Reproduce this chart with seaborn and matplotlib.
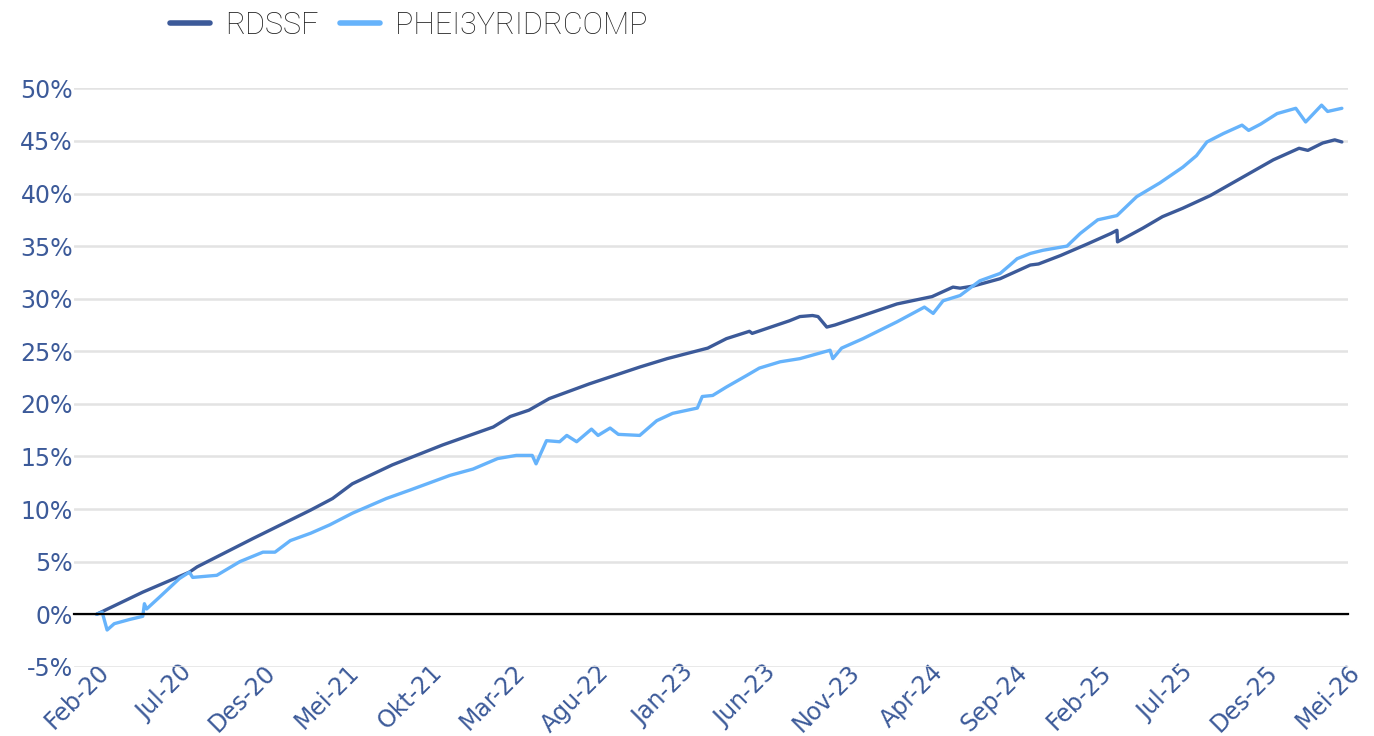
import matplotlib
matplotlib.use('Agg')

import matplotlib.pyplot as plt
import seaborn as sns
import pandas as pd

# RDSSF cumulative return (%)
rdssf_dates = [
    '2020-02-01', '2020-04-25', '2020-07-19', '2020-08-02', '2020-11-12', '2021-02-25',
    '2021-04-06', '2021-05-12', '2021-07-24', '2021-10-24', '2022-01-24', '2022-02-24',
    '2022-03-30', '2022-05-06', '2022-07-18', '2022-10-18', '2022-12-07', '2023-01-13',
    '2023-02-19', '2023-03-25', '2023-05-06', '2023-05-11', '2023-07-18', '2023-08-06',
    '2023-08-29', '2023-09-08', '2023-09-24', '2023-10-09', '2023-11-29', '2024-01-30',
    '2024-04-03', '2024-05-11', '2024-05-24', '2024-06-17', '2024-08-05', '2024-09-29',
    '2024-10-14', '2024-11-23', '2025-01-11', '2025-02-23', '2025-03-06', '2025-03-07',
    '2025-04-22', '2025-05-28', '2025-07-04', '2025-08-23', '2025-12-16', '2026-02-01',
    '2026-02-17', '2026-03-16', '2026-04-07', '2026-04-20',
]
rdssf_values = [
    0.0, 2.1, 4.0, 4.5, 7.2, 9.9,
    11.0, 12.4, 14.2, 16.1, 17.8, 18.8,
    19.4, 20.5, 21.9, 23.5, 24.3, 24.8,
    25.3, 26.2, 26.9, 26.7, 27.9, 28.3,
    28.4, 28.3, 27.3, 27.5, 28.4, 29.5,
    30.2, 31.1, 31.0, 31.2, 31.9, 33.2,
    33.3, 34.1, 35.2, 36.2, 36.5, 35.4,
    36.7, 37.8, 38.6, 39.8, 43.2, 44.3,
    44.1, 44.8, 45.1, 44.9,
]

# PHEI3YRIDRCOMP cumulative return (%)
phei_dates = [
    '2020-02-01', '2020-02-11', '2020-02-20', '2020-03-04', '2020-04-01', '2020-04-25',
    '2020-04-28', '2020-05-02', '2020-05-25', '2020-07-01', '2020-07-19', '2020-07-25',
    '2020-09-07', '2020-10-19', '2020-11-30', '2020-12-22', '2021-01-19', '2021-02-25',
    '2021-04-01', '2021-05-12', '2021-07-13', '2021-08-25', '2021-11-06', '2021-12-18',
    '2022-02-01', '2022-03-07', '2022-04-05', '2022-04-12', '2022-05-01', '2022-05-25',
    '2022-06-07', '2022-06-25', '2022-07-22', '2022-08-03', '2022-08-25', '2022-09-09',
    '2022-10-18', '2022-11-18', '2022-12-17', '2023-01-31', '2023-02-09', '2023-02-28',
    '2023-03-25', '2023-05-01', '2023-05-24', '2023-07-01', '2023-08-06', '2023-09-30',
    '2023-10-05', '2023-10-21', '2023-11-29', '2024-01-30', '2024-03-20', '2024-04-05',
    '2024-04-23', '2024-05-24', '2024-06-29', '2024-08-05', '2024-08-23', '2024-09-05',
    '2024-09-29', '2024-10-22', '2024-12-05', '2024-12-29', '2025-01-30', '2025-03-06',
    '2025-04-11', '2025-05-23', '2025-07-04', '2025-07-29', '2025-08-17', '2025-09-16',
    '2025-10-20', '2025-11-01', '2025-11-23', '2025-12-23', '2026-01-26', '2026-02-13',
    '2026-03-14', '2026-03-25', '2026-04-20',
]
phei_values = [
    0.0, 0.2, -1.5, -0.9, -0.5, -0.2,
    1.0, 0.5, 1.6, 3.4, 4.0, 3.5,
    3.7, 5.0, 5.9, 5.9, 7.0, 7.7,
    8.5, 9.6, 11.0, 11.8, 13.2, 13.8,
    14.8, 15.1, 15.1, 14.3, 16.5, 16.4,
    17.0, 16.4, 17.6, 17.0, 17.7, 17.1,
    17.0, 18.4, 19.1, 19.6, 20.7, 20.8,
    21.6, 22.7, 23.4, 24.0, 24.3, 25.1,
    24.3, 25.3, 26.2, 27.8, 29.2, 28.6,
    29.8, 30.3, 31.7, 32.4, 33.2, 33.8,
    34.3, 34.6, 35.0, 36.2, 37.5, 37.9,
    39.7, 41.0, 42.5, 43.6, 44.9, 45.7,
    46.5, 46.0, 46.6, 47.6, 48.1, 46.8,
    48.4, 47.8, 48.1,
]

series_names = ['RDSSF', 'PHEI3YRIDRCOMP']
series_colors = ['#3c5a99', '#66b3fb']

tick_dates = ['2020-02-01', '2020-07-01', '2020-12-01', '2021-05-01', '2021-10-01',
              '2022-03-01', '2022-08-01', '2023-01-01', '2023-06-01', '2023-11-01',
              '2024-04-01', '2024-09-01', '2025-02-01', '2025-07-01', '2025-12-01',
              '2026-05-01']
tick_labels = ['Feb-20', 'Jul-20', 'Des-20', 'Mei-21', 'Okt-21', 'Mar-22', 'Agu-22',
               'Jan-23', 'Jun-23', 'Nov-23', 'Apr-24', 'Sep-24', 'Feb-25', 'Jul-25',
               'Des-25', 'Mei-26']
y_ticks = [-5, 0, 5, 10, 15, 20, 25, 30, 35, 40, 45, 50]

df = pd.concat([
    pd.DataFrame({'date': pd.to_datetime(rdssf_dates), 'value': rdssf_values, 'series': series_names[0]}),
    pd.DataFrame({'date': pd.to_datetime(phei_dates), 'value': phei_values, 'series': series_names[1]}),
])

sns.set_style('white')
plt.rcParams['font.family'] = ['DejaVu Sans']

label_color = '#3c5a99'

fig = plt.figure(figsize=(13.74, 7.36), dpi=100)
ax = fig.add_axes([0.054, 0.094, 0.927, 0.786])

sns.lineplot(data=df, x='date', y='value', hue='series', hue_order=series_names,
             palette=series_colors, linewidth=2.4, estimator=None, ax=ax, legend=False)

ax.set_ylim(-5, 50)
ax.set_xlim(pd.Timestamp('2019-12-22'), pd.Timestamp('2026-05-01'))

ax.yaxis.grid(True, color='#e3e3e3', linewidth=1.8)
ax.xaxis.grid(False)
for side in ['left', 'right', 'top']:
    ax.spines[side].set_visible(False)
ax.spines['bottom'].set_position(('data', 0))
ax.spines['bottom'].set_color('black')
ax.spines['bottom'].set_linewidth(1.6)
ax.tick_params(axis='x', direction='out', length=6, width=1.6, color='black',
               labelsize=17, labelcolor=label_color, pad=27)
ax.tick_params(axis='y', length=0, labelsize=17, labelcolor=label_color, pad=1)

ax.set_yticks(y_ticks)
ax.set_yticklabels([f'{v}%' for v in y_ticks])
ax.set_xticks(pd.to_datetime(tick_dates))
ax.set_xticklabels(tick_labels)
for lbl in ax.get_xticklabels():
    lbl.set_rotation(45)
    lbl.set_ha('right')
    lbl.set_va('top')
    lbl.set_rotation_mode('anchor')
ax.set_xlabel('')
ax.set_ylabel('')

handles = [plt.Line2D([], [], color=c, linewidth=4) for c in series_colors]
fig.legend(handles, series_names, loc='center left', bbox_to_anchor=(0.104, 0.966),
           ncol=2, frameon=False, handlelength=1.3, handletextpad=0.5,
           columnspacing=0.7, labelcolor='#222222',
           prop={'family': 'Roboto', 'weight': 'light', 'size': 22})

fig.savefig('out.png', dpi=100)
